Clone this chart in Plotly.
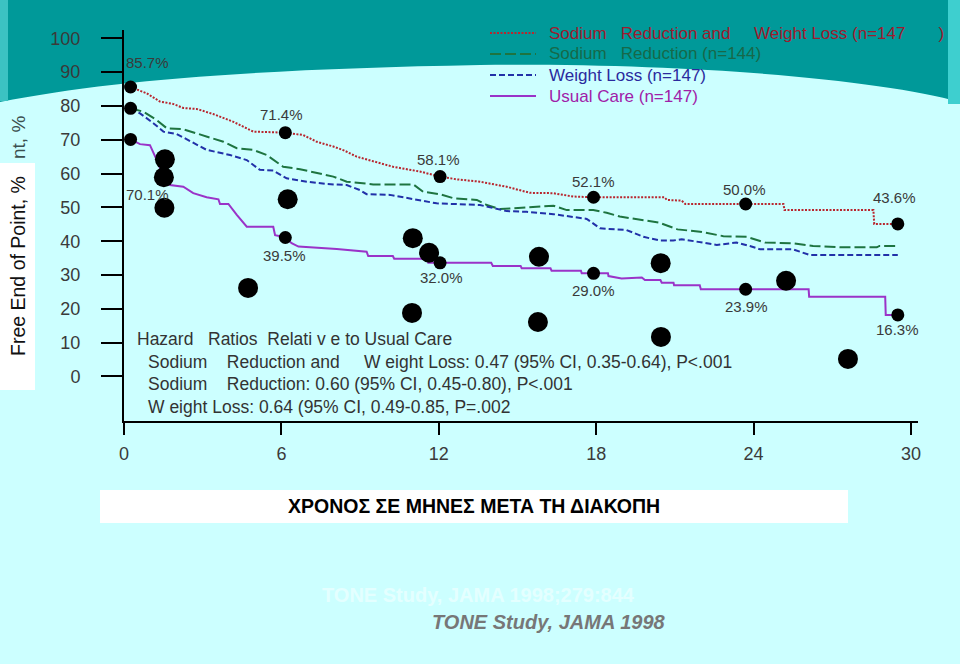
import plotly.graph_objects as go

# ---------------- data ----------------
red_months = [0.25, 0.87, 1.37, 1.87, 2.26, 2.77, 3.4, 4.17, 4.93, 6.14, 6.83, 7.35, 7.98, 8.4, 8.87,
              10.26, 11.28, 12.05, 12.68, 13.57, 14.59, 15.48, 16.36, 17.13, 17.88, 20.6, 20.7, 21.26,
              21.4, 25.14, 25.18, 28.57, 28.6, 29.55]
red_vals = [85.6, 83.7, 81.3, 80.6, 79.4, 79.1, 77.6, 75.3, 72.4, 72.1, 71.4, 69.4, 68.0, 66.8, 65.0,
            62.0, 60.6, 59.1, 58.3, 57.6, 56.1, 54.3, 54.2, 53.2, 53.0, 53.0, 52.2, 52.0,
            51.0, 51.0, 49.2, 49.2, 45.1, 45.1]

green_months = [0.25, 0.74, 1.25, 1.63, 2.26, 2.77, 3.28, 3.79, 4.3, 4.93, 5.44, 6.07, 6.71, 7.35, 7.98,
                8.49, 9.5, 11.03, 11.41, 12.05, 12.56, 13.45, 13.83, 14.34, 15.1, 15.86, 16.37, 16.88,
                17.89, 18.4, 18.9, 20.4, 21.1, 21.96, 22.85, 23.74, 24.1, 24.44, 25.5, 26.27, 27.3,
                28.7, 28.8, 29.5]
green_vals = [79.3, 78.3, 75.8, 73.4, 73.1, 71.9, 70.7, 69.4, 67.5, 67.0, 65.5, 62.0, 61.3, 60.1, 59.1,
              57.6, 56.8, 56.8, 54.6, 53.9, 52.7, 52.2, 50.7, 49.5, 49.9, 50.2, 50.5, 49.2,
              49.2, 48.4, 47.3, 45.5, 43.5, 42.8, 41.5, 41.3, 40.4, 39.6, 39.4, 38.6, 38.2,
              38.2, 38.6, 38.6]

blue_months = [0.25, 0.61, 1.12, 1.5, 2.01, 2.64, 3.15, 4.04, 4.68, 5.18, 5.69, 6.2, 6.97, 7.73, 8.49,
               9.0, 9.25, 10.14, 11.16, 11.92, 13.57, 14.59, 15.35, 16.37, 17.64, 18.15, 19.16, 19.8,
               20.43, 20.94, 21.26, 21.83, 22.6, 23.35, 23.86, 24.25, 25.5, 26.15, 29.5]
blue_vals = [79.3, 77.8, 74.9, 72.4, 71.7, 69.0, 67.0, 65.5, 64.0, 61.1, 60.9, 58.6, 57.6, 56.9, 56.6,
             55.1, 53.9, 53.7, 52.2, 51.2, 50.7, 48.9, 48.7, 48.0, 46.6, 43.8, 43.3, 41.3,
             40.2, 40.2, 40.6, 39.9, 38.9, 39.6, 38.6, 37.6, 37.6, 35.9, 35.9]

usual_months = [0.25, 0.61, 0.99, 1.25, 1.5, 1.75, 2.26, 2.64, 3.15, 3.6, 3.66, 3.98, 4.3, 4.68, 5.69,
                5.76, 6.14, 6.39, 6.65, 7.47, 8.11, 9.25, 9.31, 10.25, 10.3, 11.55, 11.6, 14.0, 14.06,
                15.12, 15.16, 16.26, 16.3, 17.42, 17.45, 18.45, 18.47, 18.97, 19.74, 19.86, 20.45,
                20.5, 20.95, 20.97, 21.95, 21.99, 26.1, 26.12, 29.02, 29.04, 29.55]
usual_vals = [70.1, 68.7, 68.4, 64.0, 59.1, 56.6, 56.1, 54.2, 53.0, 52.4, 51.0, 51.0, 47.8, 44.3, 44.3,
              41.8, 41.2, 39.4, 38.4, 38.1, 37.7, 36.9, 35.6, 35.6, 34.8, 34.8, 33.6, 33.6, 32.7,
              32.7, 32.0, 32.0, 31.3, 31.3, 30.5, 30.5, 29.7, 29.0, 29.3, 28.5, 28.5,
              27.7, 27.7, 27.0, 27.0, 25.8, 25.8, 23.6, 23.6, 18.2, 18.2]

marker_months = [0.25, 6.15, 12.05, 17.9, 23.7, 29.5]
red_marker_vals = [85.6, 72.1, 59.1, 53.0, 51.0, 45.1]
usual_marker_vals = [70.1, 41.1, 33.6, 30.5, 25.8, 18.2]
red_labels = ["85.7%", "71.4%", "58.1%", "52.1%", "50.0%", "43.6%"]
usual_labels = ["70.1%", "39.5%", "32.0%", "29.0%", "23.9%", "16.3%"]
start_month = [0.25]
start_val = [79.3]

dot_months = [1.56, 1.52, 1.54, 6.24, 4.73, 11.01, 11.63, 10.98, 15.82, 15.78, 20.46, 20.47, 25.24, 27.6]
dot_vals = [64.2, 58.9, 49.9, 52.4, 26.2, 40.9, 36.6, 18.8, 35.4, 16.1, 33.5, 11.7, 28.3, 5.2]

x_ticks = [0, 6, 12, 18, 24, 30]
y_ticks = [0, 10, 20, 30, 40, 50, 60, 70, 80, 90, 100]

NB = "\u00a0"
legend_names = [
    f"Sodium{NB*3}Reduction and{NB*5}Weight Loss (n=147{NB*7})",
    f"Sodium{NB*3}Reduction (n=144)",
    "Weight Loss (n=147)",
    "Usual Care (n=147)",
]
hazard_lines = [
    f"Hazard{NB*3}Ratios{NB*2}Relati v e to Usual Care",
    f"Sodium{NB*4}Reduction and{NB*5}W eight Loss: 0.47 (95% CI, 0.35-0.64), P&lt;.001",
    f"Sodium{NB*4}Reduction: 0.60 (95% CI, 0.45-0.80), P&lt;.001",
    "W eight Loss: 0.64 (95% CI, 0.49-0.85, P=.002",
]
y_title = "Free End of Point, %"
y_title_hidden = "nt, %"
x_title = "ΧΡΟΝΟΣ ΣΕ ΜΗΝΕΣ ΜΕΤΑ ΤΗ ΔΙΑΚΟΠΗ"
source_faint = "TONE Study, JAMA 1998;279:844"
source_main = "TONE Study, JAMA 1998"

# ---------------- layout geometry & styles ----------------
W, H = 960, 664
ML, MR, MT, MB = 124, 42, 30, 243
XR = [0, 30.27]
YR = [-13.16, 102.45]
PW, PH = W - ML - MR, H - MT - MB
FONT = "Liberation Sans, Arial, Helvetica, sans-serif"

BG = "#CCFFFF"
TEAL = "#009999"

def px(X):
    return (X - ML) / PW

def py(Y):
    return (H - MB - Y) / PH

line_styles = [
    dict(color="#B8262E", dash="2px,1.5px", width=2),
    dict(color="#1E7440", dash="11px,4px", width=2),
    dict(color="#2231A8", dash="6px,3px", width=2),
    dict(color="#9A33C8", dash="solid", width=2),
]
legend_text_colors = ["#9E1B2E", "#17684A", "#2A2A9E", "#A020A8"]

series = [
    (red_months, red_vals),
    (green_months, green_vals),
    (blue_months, blue_vals),
    (usual_months, usual_vals),
]

fig = go.Figure()

for (xs, ys), st, name in zip(series, line_styles, legend_names):
    fig.add_trace(go.Scatter(x=xs, y=ys, mode="lines", line=st, name=name,
                             showlegend=False, hoverinfo="skip"))

# small markers on curves
fig.add_trace(go.Scatter(x=marker_months, y=red_marker_vals, mode="markers",
                         marker=dict(color="black", size=13), showlegend=False))
fig.add_trace(go.Scatter(x=marker_months, y=usual_marker_vals, mode="markers",
                         marker=dict(color="black", size=13), showlegend=False))
fig.add_trace(go.Scatter(x=start_month, y=start_val, mode="markers",
                         marker=dict(color="black", size=13), showlegend=False))
# large black dots
fig.add_trace(go.Scatter(x=dot_months, y=dot_vals, mode="markers",
                         marker=dict(color="black", size=20), showlegend=False))

shapes = []
# teal band at top
band = (f"M {px(0)},{py(0)} L {px(960)},{py(0)} L {px(960)},{py(102)} "
        f"C {px(880)},{py(80)} {px(700)},{py(63)} {px(480)},{py(65)} "
        f"C {px(260)},{py(69)} {px(110)},{py(80)} {px(0)},{py(102)} Z")
shapes.append(dict(type="path", path=band, xref="paper", yref="paper",
                   fillcolor=TEAL, line=dict(width=0), layer="below"))
shapes.append(dict(type="rect", xref="paper", yref="paper", x0=px(0), x1=px(8), y0=py(0), y1=py(101),
                   fillcolor="#3CC2C2", line=dict(width=0), layer="below"))
shapes.append(dict(type="rect", xref="paper", yref="paper", x0=px(948), x1=px(960), y0=py(0), y1=py(104),
                   fillcolor="#3ECFCF", line=dict(width=0), layer="below"))
# white boxes for titles
shapes.append(dict(type="rect", xref="paper", yref="paper", x0=px(0), x1=px(35), y0=py(163), y1=py(390),
                   fillcolor="white", line=dict(width=0), layer="below"))
shapes.append(dict(type="rect", xref="paper", yref="paper", x0=px(100), x1=px(848), y0=py(490), y1=py(523),
                   fillcolor="white", line=dict(width=0), layer="below"))

# custom legend samples
legend_rows_y = [33, 54, 75, 96]
for st, yy in zip(line_styles, legend_rows_y):
    shapes.append(dict(type="line", xref="paper", yref="paper", x0=px(490), x1=px(536),
                       y0=py(yy), y1=py(yy), line=st, layer="above"))

annotations = []
for name, col, yy in zip(legend_names, legend_text_colors, legend_rows_y):
    annotations.append(dict(text=name, xref="paper", yref="paper", x=px(547), y=py(yy),
                            xanchor="left", yanchor="middle", showarrow=False,
                            font=dict(family=FONT, size=17, color=col)))

label_font = dict(family=FONT, size=15, color="#3A3A3A")
red_shifts = [(17, 24), (-4, 18), (-2, 17), (0, 16), (-1, 15), (-3, 26)]
usual_shifts = [(17, -55), (-1, -18), (1, -15), (0, -17), (1, -17), (0, -15)]
for m, v, t, (dx, dy) in zip(marker_months, red_marker_vals, red_labels, red_shifts):
    annotations.append(dict(text=t, x=m, y=v, xref="x", yref="y", showarrow=False,
                            xshift=dx, yshift=dy, font=label_font))
for m, v, t, (dx, dy) in zip(marker_months, usual_marker_vals, usual_labels, usual_shifts):
    annotations.append(dict(text=t, x=m, y=v, xref="x", yref="y", showarrow=False,
                            xshift=dx, yshift=dy, font=label_font))

hz_pos = [(135, 339), (146, 362), (146, 384), (146, 407)]
for t, (X, Y) in zip(hazard_lines, hz_pos):
    annotations.append(dict(text=t, xref="paper", yref="paper", x=px(X), y=py(Y),
                            xanchor="left", yanchor="middle", showarrow=False,
                            font=dict(family=FONT, size=17.5, color="#333333")))

annotations.append(dict(text=y_title, xref="paper", yref="paper", x=px(18), y=py(266),
                        textangle=-90, showarrow=False, xanchor="center", yanchor="middle",
                        font=dict(family=FONT, size=19.5, color="#111111")))
annotations.append(dict(text=y_title_hidden, xref="paper", yref="paper", x=px(18), y=py(138),
                        textangle=-90, showarrow=False, xanchor="center", yanchor="middle",
                        font=dict(family=FONT, size=19, color="#3B4F4F")))
annotations.append(dict(text=f"<b>{x_title}</b>", xref="paper", yref="paper", x=px(474), y=py(506),
                        showarrow=False, xanchor="center", yanchor="middle",
                        font=dict(family=FONT, size=19.5, color="#000000")))
annotations.append(dict(text=f"<b>{source_faint}</b>", xref="paper", yref="paper", x=px(478), y=py(595),
                        showarrow=False, xanchor="center", yanchor="middle",
                        font=dict(family=FONT, size=20, color="#E4FFFF")))
annotations.append(dict(text=f"<b><i>{source_main}</i></b>", xref="paper", yref="paper", x=px(549), y=py(622),
                        showarrow=False, xanchor="center", yanchor="middle",
                        font=dict(family=FONT, size=20, color="#777777")))

fig.update_layout(
    width=W, height=H,
    margin=dict(l=ML, r=MR, t=MT, b=MB, pad=0),
    paper_bgcolor=BG, plot_bgcolor="rgba(0,0,0,0)",
    shapes=shapes, annotations=annotations,
    showlegend=False,
    xaxis=dict(range=XR, tickvals=x_ticks, ticktext=[str(v) for v in x_ticks],
               showgrid=False, zeroline=False, showline=True, linecolor="black", linewidth=2,
               ticks="outside", ticklen=12, tickwidth=2, tickcolor="black",
               tickfont=dict(family=FONT, size=18, color="#3A3A3A"), ticklabelstandoff=3),
    yaxis=dict(range=YR, tickvals=y_ticks, ticktext=[str(v) for v in y_ticks],
               showgrid=False, zeroline=False, showline=True, linecolor="black", linewidth=2,
               ticks="outside", ticklen=21, tickwidth=2, tickcolor="black",
               tickfont=dict(family=FONT, size=18, color="#3A3A3A"), ticklabelstandoff=17),
)

fig.write_html("out.html")
